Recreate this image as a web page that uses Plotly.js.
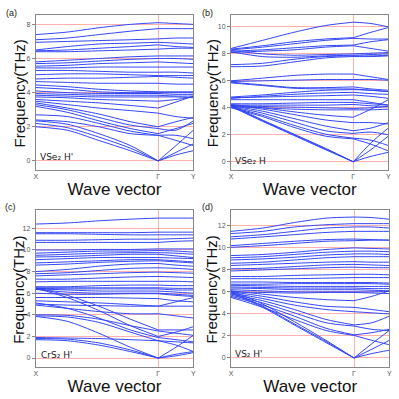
<!DOCTYPE html>
<html>
<head>
<meta charset="utf-8">
<script src="https://cdn.plot.ly/plotly-3.0.1.min.js"></script>
<style>
  html, body { margin: 0; padding: 0; background: #fff; }
  #myDiv { width: 399px; height: 399px; }
</style>
</head>
<body>
<div id="myDiv"></div>
<script>
// k-path sample points: X ... Gamma (0.777) ... Y
var kpts = [0, 0.2, 0.4, 0.6, 0.777, 0.89, 1];
var kTickVals = [0, 0.777, 1];
var kTickText = ["X", "Γ", "Y"];

// (a) VSe2 H'  frequencies (THz) at kpts
var bandsA = [
  [7.4, 7.55, 7.8, 8.0, 8.1, 8.05, 8.0],
  [7.1, 7.2, 7.4, 7.6, 7.75, 7.75, 7.75],
  [6.95, 7.0, 7.05, 7.1, 7.15, 7.2, 7.2],
  [6.5, 6.7, 6.85, 6.9, 6.95, 6.9, 6.85],
  [6.45, 6.5, 6.6, 6.7, 6.8, 6.7, 6.65],
  [6.4, 6.4, 6.45, 6.5, 6.55, 6.6, 6.6],
  [5.8, 5.9, 6.0, 6.1, 6.15, 6.15, 6.15],
  [5.7, 5.75, 5.85, 5.95, 6.0, 6.0, 5.95],
  [5.55, 5.6, 5.7, 5.75, 5.8, 5.75, 5.7],
  [5.45, 5.45, 5.5, 5.5, 5.5, 5.5, 5.5],
  [5.3, 5.3, 5.25, 5.2, 5.2, 5.2, 5.15],
  [5.05, 5.1, 5.1, 5.05, 5.0, 5.0, 5.0],
  [4.8, 4.85, 4.85, 4.9, 4.95, 4.9, 4.85],
  [4.65, 4.6, 4.55, 4.55, 4.55, 4.5, 4.5],
  [4.45, 4.35, 4.2, 4.1, 4.05, 4.05, 4.05],
  [4.3, 4.2, 4.05, 4.0, 4.0, 4.0, 4.0],
  [4.1, 4.0, 3.95, 3.95, 3.95, 3.9, 3.9],
  [3.95, 3.9, 3.85, 3.85, 3.85, 3.8, 3.8],
  [3.85, 3.8, 3.75, 3.75, 3.75, 3.75, 3.7],
  [3.75, 3.7, 3.6, 3.55, 3.5, 3.6, 3.75],
  [3.6, 3.5, 3.4, 3.25, 3.1, 3.45, 3.8],
  [3.5, 3.3, 3.1, 2.95, 2.8, 2.6, 2.5],
  [3.4, 3.1, 2.75, 2.3, 2.0, 2.3, 2.55],
  [3.3, 3.0, 2.55, 2.1, 1.9, 1.8, 2.35],
  [3.2, 2.85, 2.35, 1.9, 1.6, 1.9, 2.2],
  [2.7, 2.6, 2.2, 1.75, 1.5, 1.5, 1.3],
  [2.4, 2.3, 2.0, 1.6, 1.5, 1.2, 0.9],
  [2.35, 2.15, 1.6, 0.9, 0, 0.9, 1.8],
  [2.2, 1.95, 1.4, 0.75, 0, 0.5, 1.0],
  [2.0, 1.8, 1.2, 0.6, 0, 0.35, 0.6]
];

// (b) VSe2 H
var bandsB = [
  [8.4, 9.0, 9.6, 10.1, 10.35, 10.25, 10.0],
  [8.35, 8.6, 8.9, 9.1, 9.2, 9.6, 9.95],
  [8.3, 8.5, 8.75, 9.0, 9.15, 9.1, 9.1],
  [8.2, 8.3, 8.45, 8.6, 8.65, 8.9, 9.05],
  [8.1, 8.2, 8.3, 8.5, 8.6, 8.4, 8.2],
  [8.25, 8.0, 7.9, 7.95, 8.0, 8.05, 8.1],
  [8.15, 7.8, 7.75, 7.85, 7.9, 7.95, 8.0],
  [7.2, 7.3, 7.6, 7.8, 7.85, 7.85, 7.9],
  [7.05, 7.1, 7.4, 7.7, 7.8, 7.8, 7.85],
  [6.0, 6.2, 6.4, 6.5, 6.5, 6.3, 6.1],
  [5.95, 6.0, 6.05, 6.1, 6.1, 6.1, 6.05],
  [5.9, 5.7, 5.5, 5.5, 5.55, 5.4, 5.3],
  [5.85, 5.65, 5.45, 5.4, 5.4, 5.3, 5.2],
  [4.8, 4.95, 5.15, 5.3, 5.35, 5.3, 5.2],
  [4.7, 4.85, 5.0, 5.1, 5.15, 5.05, 5.0],
  [4.75, 4.8, 4.85, 4.9, 4.95, 4.85, 4.7],
  [4.6, 4.6, 4.6, 4.6, 4.6, 4.4, 4.2],
  [4.3, 4.3, 4.35, 4.4, 4.4, 4.3, 4.2],
  [4.2, 4.2, 4.2, 4.2, 4.25, 4.15, 4.1],
  [4.15, 4.1, 4.05, 4.0, 3.95, 4.0, 4.1],
  [4.1, 4.0, 3.9, 3.85, 3.85, 3.85, 3.9],
  [4.25, 4.0, 3.7, 3.45, 3.3, 3.9, 4.6],
  [4.2, 3.9, 3.5, 3.1, 2.9, 2.9, 2.8],
  [4.15, 3.75, 3.2, 2.65, 2.3, 2.5, 2.9],
  [4.1, 3.6, 2.95, 2.3, 2.1, 2.2, 2.0],
  [4.05, 3.45, 2.7, 2.05, 1.75, 1.6, 1.2],
  [4.0, 3.35, 2.55, 1.9, 1.7, 1.3, 0.8],
  [4.2, 3.1, 2.05, 1.0, 0, 1.4, 2.5],
  [4.15, 3.05, 2.0, 0.95, 0, 0.9, 1.9],
  [4.1, 3.0, 1.95, 0.9, 0, 0.4, 0.7]
];

// (c) CrS2 H'
var bandsC = [
  [12.4, 12.5, 12.7, 12.85, 12.95, 12.95, 12.95],
  [11.6, 11.6, 11.6, 11.6, 11.65, 11.65, 11.65],
  [11.5, 11.5, 11.45, 11.4, 11.4, 11.4, 11.4],
  [10.9, 10.9, 10.95, 11.0, 11.0, 11.05, 11.1],
  [10.7, 10.7, 10.7, 10.7, 10.7, 10.8, 10.85],
  [10.0, 10.0, 10.05, 10.05, 10.1, 10.1, 10.1],
  [9.7, 9.8, 9.9, 9.9, 9.95, 9.9, 9.8],
  [9.5, 9.6, 9.7, 9.75, 9.75, 9.7, 9.6],
  [9.35, 9.4, 9.5, 9.6, 9.6, 9.45, 9.3],
  [9.1, 9.2, 9.3, 9.3, 9.3, 9.25, 9.2],
  [8.8, 8.9, 9.0, 9.1, 9.1, 9.0, 8.9],
  [8.6, 8.7, 8.85, 8.95, 9.0, 8.9, 8.8],
  [8.0, 8.2, 8.5, 8.7, 8.75, 8.6, 8.5],
  [7.8, 7.9, 8.1, 8.3, 8.35, 8.3, 8.2],
  [7.6, 7.7, 7.8, 7.9, 7.95, 7.9, 7.85],
  [7.3, 7.3, 7.4, 7.5, 7.55, 7.5, 7.45],
  [7.05, 7.1, 7.1, 7.1, 7.1, 7.1, 7.05],
  [6.6, 6.6, 6.7, 6.75, 6.75, 6.7, 6.7],
  [6.5, 6.5, 6.5, 6.5, 6.5, 6.45, 6.45],
  [6.45, 6.4, 6.4, 6.4, 6.4, 6.3, 6.3],
  [6.4, 6.3, 6.2, 6.2, 6.2, 6.1, 6.0],
  [6.35, 6.1, 6.0, 6.0, 6.0, 5.9, 5.8],
  [6.0, 5.9, 5.9, 5.95, 5.95, 5.8, 5.7],
  [5.6, 5.6, 5.6, 5.55, 5.5, 5.3, 5.2],
  [5.3, 5.2, 5.1, 4.95, 4.8, 5.2, 5.6],
  [5.0, 4.9, 4.85, 4.8, 4.8, 4.8, 4.8],
  [4.9, 4.6, 4.3, 4.1, 4.1, 3.9, 3.7],
  [6.5, 5.8, 4.8, 3.6, 2.6, 2.6, 2.6],
  [6.45, 5.6, 4.4, 3.0, 2.0, 2.4, 2.9],
  [5.1, 4.6, 3.7, 2.6, 1.9, 1.7, 1.5],
  [4.0, 3.95, 3.6, 3.0, 2.5, 2.3, 2.1],
  [3.9, 3.8, 3.3, 2.4, 1.6, 1.5, 1.4],
  [1.9, 1.85, 1.8, 1.7, 1.6, 1.2, 0.6],
  [1.8, 1.75, 1.4, 0.75, 0, 1.0, 2.1],
  [1.7, 1.6, 1.2, 0.6, 0, 0.35, 0.6],
  [3.85, 3.4, 2.3, 1.0, 0, 0.2, 0.5]
];

// (d) VS2 H'
var bandsD = [
  [11.5, 11.8, 12.3, 12.7, 12.8, 12.75, 12.6],
  [11.3, 11.5, 11.9, 12.1, 12.2, 12.2, 12.2],
  [11.0, 11.2, 11.5, 11.8, 11.9, 11.9, 11.8],
  [10.8, 11.0, 11.2, 11.4, 11.5, 11.5, 11.5],
  [10.2, 10.4, 10.6, 10.75, 10.8, 10.75, 10.7],
  [10.05, 10.2, 10.4, 10.6, 10.65, 10.7, 10.7],
  [9.3, 9.4, 9.6, 9.85, 10.0, 9.95, 9.9],
  [9.1, 9.2, 9.4, 9.6, 9.7, 9.7, 9.65],
  [8.9, 9.0, 9.15, 9.35, 9.45, 9.45, 9.4],
  [8.6, 8.7, 8.9, 9.1, 9.2, 9.2, 9.2],
  [8.4, 8.5, 8.6, 8.7, 8.75, 8.7, 8.7],
  [8.1, 8.15, 8.3, 8.45, 8.5, 8.45, 8.4],
  [7.9, 8.0, 8.1, 8.2, 8.25, 8.2, 8.2],
  [7.4, 7.4, 7.5, 7.55, 7.6, 7.6, 7.55],
  [7.2, 7.2, 7.2, 7.25, 7.3, 7.3, 7.3],
  [6.9, 6.9, 6.85, 6.85, 6.85, 6.85, 6.8],
  [6.7, 6.7, 6.75, 6.75, 6.75, 6.75, 6.7],
  [6.6, 6.55, 6.5, 6.5, 6.5, 6.5, 6.5],
  [6.45, 6.4, 6.35, 6.35, 6.35, 6.3, 6.3],
  [6.35, 6.3, 6.2, 6.2, 6.2, 6.15, 6.1],
  [6.2, 6.1, 6.0, 6.0, 6.0, 6.0, 6.05],
  [6.0, 5.95, 5.9, 5.95, 5.95, 5.9, 5.85],
  [6.1, 5.8, 5.5, 5.3, 5.2, 5.6, 6.1],
  [6.0, 5.6, 5.1, 4.7, 4.6, 4.4, 4.2],
  [5.9, 5.4, 4.8, 4.4, 4.2, 4.1, 4.0],
  [5.8, 5.2, 4.4, 3.5, 3.0, 3.2, 3.8],
  [5.7, 5.0, 4.1, 3.2, 2.9, 2.6, 2.5],
  [5.6, 4.8, 3.8, 2.7, 2.1, 2.3, 2.6],
  [5.5, 4.6, 3.5, 2.5, 2.05, 1.6, 1.2],
  [6.1, 4.9, 3.3, 1.6, 0, 1.3, 2.5],
  [6.0, 4.7, 3.1, 1.5, 0, 0.8, 1.6],
  [5.9, 4.6, 3.0, 1.4, 0, 0.4, 0.7]
];

var panelNames = ["VSe₂ H'", "VSe₂ H", "CrS₂ H'", "VS₂ H'"];
var panelLetters = ["(a)", "(b)", "(c)", "(d)"];

var lineColor = "rgb(50,70,245)";
var gridColor = "#ffb0b0";

// each band split at Gamma so the spline keeps the kink there
function bandTrace(bands, xa, ya) {
  var x = [], y = [];
  bands.forEach(function (b) {
    for (var i = 0; i <= 4; i++) { x.push(kpts[i]); y.push(b[i]); }
    x.push(null); y.push(null);
    for (var j = 4; j < kpts.length; j++) { x.push(kpts[j]); y.push(b[j]); }
    x.push(null); y.push(null);
  });
  return {
    type: "scatter",
    mode: "lines",
    x: x,
    y: y,
    xaxis: xa,
    yaxis: ya,
    connectgaps: false,
    hoverinfo: "skip",
    showlegend: false,
    line: { color: lineColor, width: 1, shape: "spline", smoothing: 0.8 },
  };
}

function xAxis(domain, anchor) {
  return {
    domain: domain,
    anchor: anchor,
    range: [0, 1],
    tickvals: kTickVals,
    ticktext: kTickText,
    showgrid: true,
    gridcolor: gridColor,
    gridwidth: 1,
    zeroline: false,
    showline: true,
    mirror: true,
    linecolor: "#888",
    linewidth: 1,
    ticks: "",
    tickfont: { size: 7, color: "#555" },
    title: { text: "Wave vector", font: { size: 17, color: "#111" }, standoff: 2 },
  };
}

function yAxis(domain, anchor, range) {
  return {
    domain: domain,
    anchor: anchor,
    range: range,
    dtick: 2,
    tick0: 0,
    showgrid: true,
    gridcolor: gridColor,
    gridwidth: 1,
    zeroline: false,
    showline: true,
    mirror: true,
    linecolor: "#888",
    linewidth: 1,
    ticks: "outside",
    ticklen: 3,
    tickcolor: "#888",
    tickfont: { size: 7, color: "#555" },
  };
}

var data = [
  bandTrace(bandsA, "x", "y"),
  bandTrace(bandsB, "x2", "y2"),
  bandTrace(bandsC, "x3", "y3"),
  bandTrace(bandsD, "x4", "y4"),
];

var labelPos = [[0.095, 0.607], [0.585, 0.597], [0.097, 0.11], [0.585, 0.113]];
var letterPos = [[0.01, 0.968], [0.502, 0.968], [0.008, 0.482], [0.502, 0.482]];
var yTitlePos = [[0.048, 0.766], [0.531, 0.766], [0.048, 0.274], [0.531, 0.274]];

var annotations = [];
for (var p = 0; p < 4; p++) {
  annotations.push({
    xref: "paper", yref: "paper",
    x: labelPos[p][0], y: labelPos[p][1],
    xanchor: "left", yanchor: "middle",
    text: panelNames[p], showarrow: false,
    font: { size: 9, color: "#222", family: "DejaVu Sans, sans-serif" },
  });
  annotations.push({
    xref: "paper", yref: "paper",
    x: letterPos[p][0], y: letterPos[p][1],
    xanchor: "left", yanchor: "middle",
    text: panelLetters[p], showarrow: false,
    font: { size: 9, color: "#222" },
  });
  annotations.push({
    xref: "paper", yref: "paper",
    x: yTitlePos[p][0], y: yTitlePos[p][1],
    xanchor: "center", yanchor: "middle",
    textangle: -90,
    text: "Frequency(THz)", showarrow: false,
    font: { size: 15, color: "#111" },
  });
}

var layout = {
  width: 399,
  height: 399,
  margin: { l: 0, r: 0, t: 0, b: 0 },
  paper_bgcolor: "#fff",
  plot_bgcolor: "#fff",
  font: { family: "Liberation Sans, Arial, sans-serif" },
  xaxis: xAxis([0.0895, 0.4845], "y"),
  yaxis: yAxis([0.574, 0.962], "x", [-0.53, 8.54]),
  xaxis2: xAxis([0.579, 0.9732], "y2"),
  yaxis2: yAxis([0.574, 0.962], "x2", [-0.61, 10.87]),
  xaxis3: xAxis([0.0895, 0.4845], "y3"),
  yaxis3: yAxis([0.0802, 0.4737], "x3", [-0.83, 13.7]),
  xaxis4: xAxis([0.579, 0.9757], "y4"),
  yaxis4: yAxis([0.0802, 0.4737], "x4", [-0.82, 13.44]),
  annotations: annotations,
};

document.addEventListener("DOMContentLoaded", () => {
  Plotly.newPlot("myDiv", data, layout, { displayModeBar: false, staticPlot: true });
});
</script>
</body>
</html>
